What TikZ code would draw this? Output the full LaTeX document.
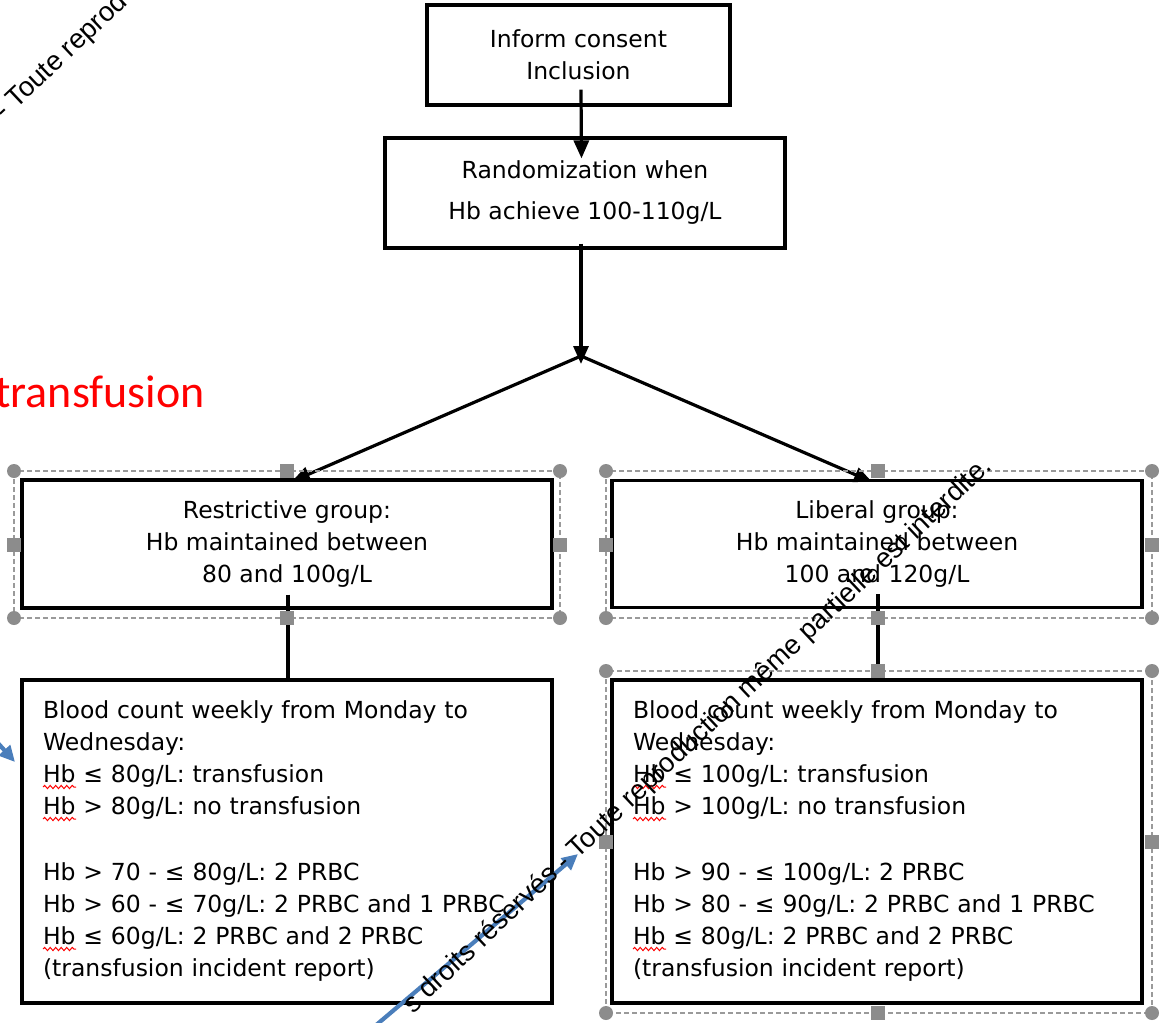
\documentclass[tikz,border=0pt]{standalone}
\usepackage{fontspec}
\setmainfont{DejaVu Sans}
\newfontfamily\wmfont{Liberation Sans}
\newfontfamily\calfont{Carlito}
\usetikzlibrary{arrows.meta,decorations.pathmorphing}
\definecolor{handlegray}{HTML}{8C8C8C}
\definecolor{framegray}{HTML}{9A9A9A}
\definecolor{officeblue}{HTML}{4A7EBB}
\newcommand\selframe[6]{%
  \draw[selframe] (#1,#4) rectangle (#3,#6);
  \foreach \hx/\hy in {#1/#4,#3/#4,#1/#6,#3/#6} \fill[handle] (\hx,\hy) circle (7pt);
  \foreach \hx/\hy in {#2/#4,#1/#5,#3/#5,#2/#6} \fill[handle] (\hx-7,\hy-7) rectangle ++(14,14);
}
\tikzset{
  box/.style={draw, line width=3.2pt, inner sep=0pt, align=center, font=\fontsize{23.5}{32}\selectfont},
  arr/.style={line width=3.2pt, -{Triangle[length=18pt,width=15pt]}},
  conn/.style={line width=3.2pt},
  selframe/.style={draw=framegray, line width=1.3pt, dash pattern=on 5pt off 3pt},
  handle/.style={fill=handlegray},
  wm/.style={font=\wmfont\fontsize{27.4}{27.4}\selectfont, text=black, rotate=43.3, inner sep=0pt},
  bluearr/.style={draw=officeblue, line width=4.2pt, -{Triangle[length=16pt,width=15pt]}},
  squiggle/.style={draw=red, line width=1pt, decorate, decoration={snake, amplitude=1.6pt, segment length=5.5pt}}
}
\begin{document}
\begin{tikzpicture}[x=1pt,y=-1pt]
\useasboundingbox[fill=white] (0,0) rectangle (1163,1023);

% boxes
\node[box, minimum width=303pt, minimum height=100pt] (b1) at (578.5,55) {Inform consent\\Inclusion};
\node[box, minimum width=400pt, minimum height=110pt, font=\fontsize{23.5}{41}\selectfont] (b2) at (585,193) {Randomization when\\Hb achieve 100-110g/L};
\node[box, minimum width=530pt, minimum height=128pt] (rg) at (287,544) {Restrictive group:\\Hb maintained between\\80 and 100g/L};
\node[box, minimum width=530pt, minimum height=127pt] (lg) at (877,544) {Liberal group:\\Hb maintained between\\100 and 120g/L};
\node[box, minimum width=530pt, minimum height=323pt, text width=488pt, align=left] (rb) at (287,841.5) {Blood count weekly from Monday to\\
Wednesday:\\
Hb ≤ 80g/L: transfusion\\
Hb > 80g/L: no transfusion\\[34pt]
Hb > 70 - ≤ 80g/L: 2 PRBC\\
Hb > 60 - ≤ 70g/L: 2 PRBC and 1 PRBC\\
Hb ≤ 60g/L: 2 PRBC and 2 PRBC\\
(transfusion incident report)};
\node[box, minimum width=530pt, minimum height=323pt, text width=488pt, align=left] (lb) at (877,841.5) {Blood count weekly from Monday to\\
Wednesday:\\
Hb ≤ 100g/L: transfusion\\
Hb > 100g/L: no transfusion\\[34pt]
Hb > 90 - ≤ 100g/L: 2 PRBC\\
Hb > 80 - ≤ 90g/L: 2 PRBC and 1 PRBC\\
Hb ≤ 80g/L: 2 PRBC and 2 PRBC\\
(transfusion incident report)};

% spell-check squiggles under "Hb"
\foreach \sx in {43,633} {
  \foreach \sy in {787,819,949} {
    \draw[squiggle] (\sx,\sy) -- ++(33,0);
  }
}

% red text
\node[font=\calfont\fontsize{46}{46}\selectfont, text=red, anchor=base east, inner sep=0pt] (redt) at (205,407) {transfusion};

% connectors
\coordinate (j) at (581,356);
\draw[arr] ([xshift=2.5pt,yshift=17pt]b1.south) -- ([xshift=-3.5pt,yshift=-22pt]b2.north);
\draw[arr] ([xshift=-4pt,yshift=6pt]b2.south) -- ([yshift=-8pt]j);
\draw[arr] (j) -- ([xshift=5pt,yshift=-3pt]rg.north);
\draw[arr] (j) -- ([xshift=-5pt,yshift=-3pt]lg.north);
\draw[conn] ([xshift=1pt,yshift=15pt]rg.south) -- ([xshift=1pt,yshift=-3pt]rb.north);
\draw[conn] ([xshift=1pt,yshift=15pt]lg.south) -- ([xshift=1pt,yshift=-3pt]lb.north);

% selection frames
\selframe{14}{287}{560}{471}{545}{618}
\selframe{606}{878}{1152}{471}{545}{618}
\selframe{606}{878}{1152}{671}{842}{1013}

% blue arrows
\coordinate (ba1s) at (-30,712);
\coordinate (ba1e) at (15,762);
\draw[bluearr] (ba1s) -- (ba1e);
\coordinate (ba2s) at (355,1043);
\coordinate (ba2e) at (578,854);
\draw[bluearr] (ba2s) -- (ba2e);

% watermark texts
\node[wm, anchor=base east] (wm1) at (993,468) {s droits réservés - Toute reproduction même partielle est interdite.};
\node[wm, anchor=base west] (wm2) at (4,121) {- Toute reprod};
\end{tikzpicture}
\end{document}
